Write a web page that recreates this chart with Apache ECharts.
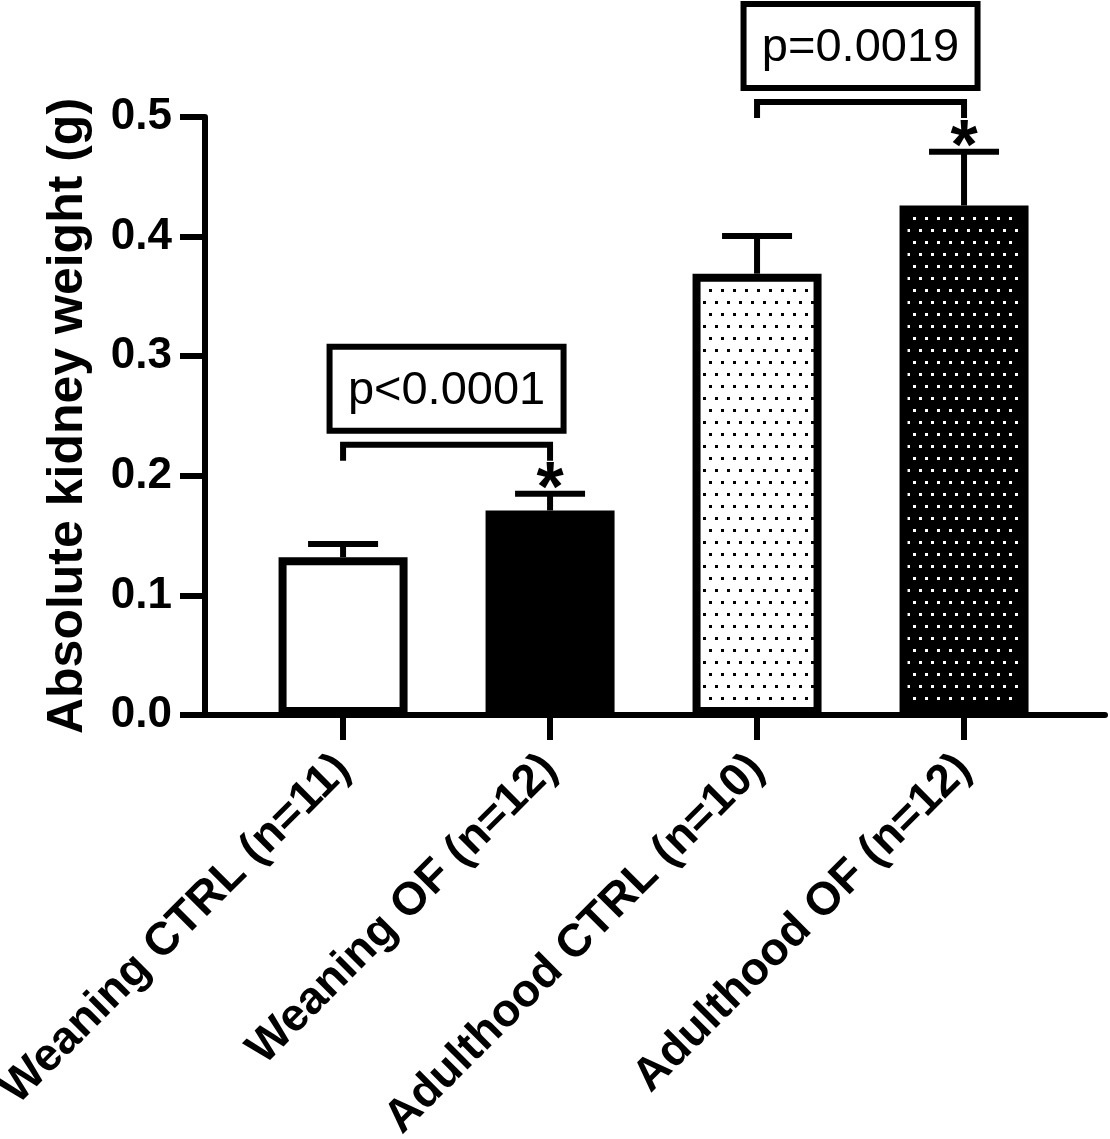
<!DOCTYPE html>
<html>
<head>
<meta charset="utf-8">
<script src="https://cdn.jsdelivr.net/npm/echarts@6/dist/echarts.min.js"></script>
<style>
  html, body { margin: 0; padding: 0; background: #fff; }
  #charts { width: 1110px; height: 1139px; }
</style>
</head>
<body>
<div id="charts"></div>
<script>
// data
var categories = ['Weaning CTRL (n=11)', 'Weaning OF (n=12)', 'Adulthood CTRL (n=10)', 'Adulthood OF (n=12)'];
var means = [0.132, 0.171, 0.369, 0.426];
var sems = [0.011, 0.014, 0.0315, 0.045];
var stars = ['', '*', '', '*'];
var yTicks = [0, 0.1, 0.2, 0.3, 0.4, 0.5];

// comparisons (bracket from bar -> bar, at a y level)
var compFrom = [0, 2];
var compTo = [1, 3];
var compLevel = [0.226, 0.5125];
var compText = ['p<0.0001', 'p=0.0019'];

var FONT = '"Liberation Sans", Arial, sans-serif';

function dots(bg, fg) {
    var c = document.createElement('canvas');
    c.width = 12; c.height = 24;
    var ctx = c.getContext('2d');
    ctx.fillStyle = bg;
    ctx.fillRect(0, 0, 12, 24);
    ctx.fillStyle = fg;
    ctx.fillRect(1, 1, 3, 3);
    ctx.fillRect(7, 13, 3, 3);
    return c;
}

var fills = [
    '#ffffff',
    '#000000',
    { image: dots('#ffffff', '#000000'), repeat: 'repeat' },
    { image: dots('#000000', '#ffffff'), repeat: 'repeat' }
];

var myChart = echarts.init(document.getElementById('charts'));

var option = {
    animation: false,
    grid: { left: 205, right: 5, top: 117, bottom: 424, outerBoundsMode: 'none', containLabel: false },
    xAxis: {
        type: 'value',
        min: -0.667,
        max: 3.681,
        splitLine: { show: false },
        axisLine: { show: true, lineStyle: { color: '#000', width: 6 } },
        axisTick: {
            show: true, length: 25, customValues: [0, 1, 2, 3],
            lineStyle: { color: '#000', width: 6 }
        },
        axisLabel: {
            customValues: [0, 1, 2, 3],
            rotate: 45,
            margin: 47,
            color: '#000',
            fontFamily: FONT,
            fontWeight: 'bold',
            fontSize: 46,
            formatter: function (v) { return categories[Math.round(v)]; }
        }
    },
    yAxis: {
        type: 'value',
        min: yTicks[0],
        max: yTicks[yTicks.length - 1],
        interval: 0.1,
        name: 'Absolute kidney weight (g)',
        nameLocation: 'middle',
        nameGap: 112,
        nameTextStyle: { color: '#000', fontFamily: FONT, fontWeight: 'bold', fontSize: 50 },
        splitLine: { show: false },
        axisLine: { show: true, onZero: false, lineStyle: { color: '#000', width: 6 } },
        axisTick: { show: true, length: 25, lineStyle: { color: '#000', width: 6 } },
        axisLabel: {
            margin: 33,
            color: '#000',
            fontFamily: FONT,
            fontWeight: 'bold',
            fontSize: 44,
            formatter: function (v) { return v.toFixed(1); }
        }
    },
    series: [
        {
            type: 'bar',
            barWidth: 129,
            data: means.map(function (m, i) {
                return { value: [i, m], itemStyle: { color: fills[i] } };
            }),
            itemStyle: { borderColor: '#000', borderWidth: 8 }
        },
        {
            // error bars + asterisks
            type: 'custom',
            z: 3,
            data: means.map(function (m, i) { return [i, m, sems[i]]; }),
            renderItem: function (params, api) {
                var i = api.value(0), m = api.value(1), s = api.value(2);
                var base = api.coord([i, m]);
                var top = api.coord([i, m + s]);
                var half = 35;
                var kids = [
                    { type: 'line', shape: { x1: base[0], y1: base[1], x2: top[0], y2: top[1] },
                      style: { stroke: '#000', lineWidth: 6 } },
                    { type: 'line', shape: { x1: top[0] - half, y1: top[1], x2: top[0] + half, y2: top[1] },
                      style: { stroke: '#000', lineWidth: 6 } }
                ];
                var st = stars[params.dataIndex];
                if (st) {
                    kids.push({ type: 'text', x: top[0], y: top[1] - 2,
                        style: { text: st, fill: '#000', font: 'bold 70px ' + FONT,
                                 align: 'center', verticalAlign: 'middle' } });
                }
                return { type: 'group', children: kids };
            }
        },
        {
            // significance brackets with p-value boxes
            type: 'custom',
            z: 4,
            data: compFrom.map(function (f, k) { return [f, compTo[k], compLevel[k]]; }),
            renderItem: function (params, api) {
                var a = api.coord([api.value(0), api.value(2)]);
                var b = api.coord([api.value(1), api.value(2)]);
                var drop = 16;
                var cx = (a[0] + b[0]) / 2;
                var cy = a[1] - 56;
                var bw = 234, bh = 84;
                return {
                    type: 'group',
                    children: [
                        { type: 'polyline',
                          shape: { points: [[a[0], a[1] + drop], [a[0], a[1]], [b[0], b[1]], [b[0], b[1] + drop]] },
                          style: { stroke: '#000', lineWidth: 6, fill: null, lineJoin: 'miter' } },
                        { type: 'rect',
                          shape: { x: cx - bw / 2, y: cy - bh / 2, width: bw, height: bh },
                          style: { fill: '#fff', stroke: '#000', lineWidth: 6 } },
                        { type: 'text', x: cx, y: cy + 2,
                          style: { text: compText[params.dataIndex], fill: '#000',
                                   font: '47px ' + FONT, align: 'center', verticalAlign: 'middle' } }
                    ]
                };
            }
        }
    ]
};

myChart.setOption(option);
</script>
</body>
</html>
